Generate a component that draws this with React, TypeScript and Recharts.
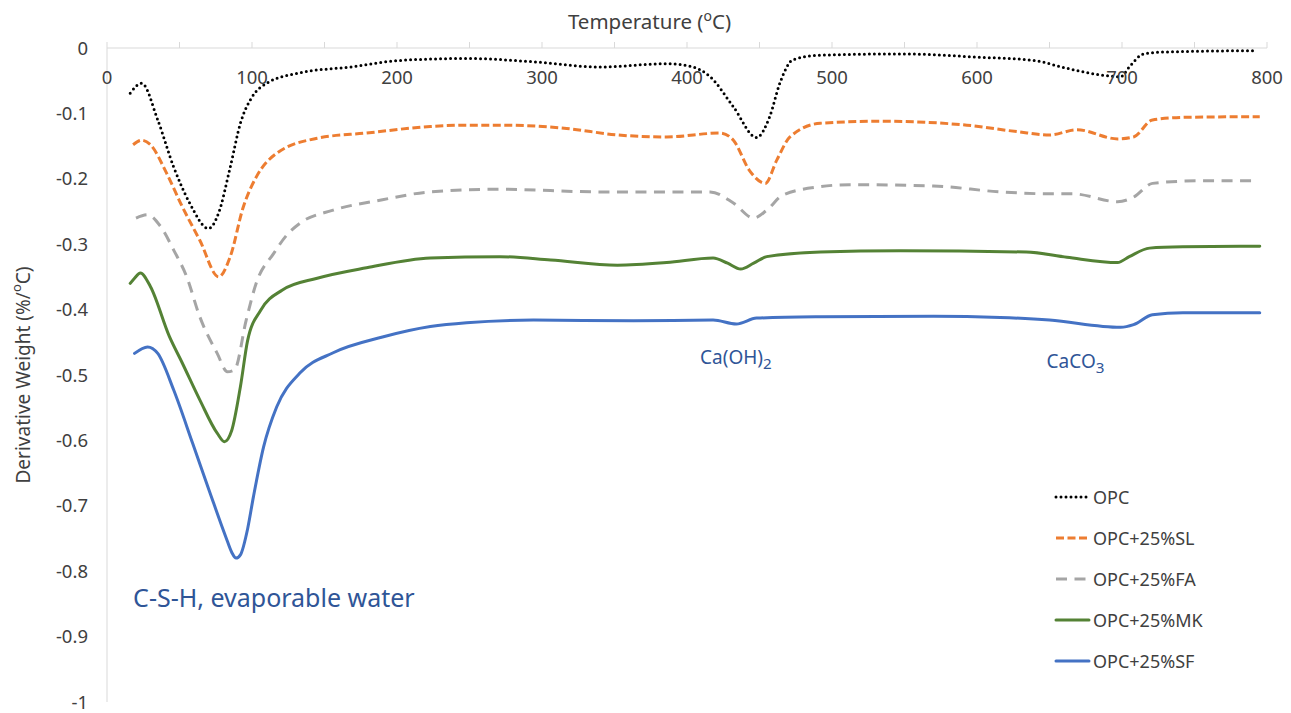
import React from "react";
import { LineChart, Line, XAxis, YAxis, Legend, ReferenceDot } from "recharts";

const FONT = '"Noto Sans", "Open Sans", sans-serif';
const CHART_W = 1291;
const CHART_H = 713;
const MARGIN = { top: 18, right: 24, bottom: 11, left: 0 };
const X_AXIS_H = 30;
const PLOT_TOP = MARGIN.top + X_AXIS_H;
const AXIS_GREY = "#d9d9d9";
const TEXT_GREY = "#404040";
const NOTE_BLUE = "#2f5597";

const xTicks = [0, 50, 100, 150, 200, 250, 300, 350, 400, 450, 500, 550, 600, 650, 700, 750, 800];
const yTicks = [0, -0.1, -0.2, -0.3, -0.4, -0.5, -0.6, -0.7, -0.8, -0.9, -1];

// temperatures (°C) and derivative weight (%/°C)
const opcTemp = [16, 24, 35, 46, 57, 70, 77, 85, 92, 100, 110, 133, 168, 202, 248, 294, 340, 386, 404, 416, 432, 448, 457, 464, 473, 492, 547, 601, 639, 662, 685, 699, 705, 715, 731, 793];
const opcDtg = [-0.069, -0.054, -0.11, -0.182, -0.237, -0.276, -0.252, -0.182, -0.115, -0.075, -0.054, -0.038, -0.029, -0.019, -0.016, -0.021, -0.029, -0.024, -0.029, -0.044, -0.09, -0.137, -0.105, -0.054, -0.018, -0.011, -0.009, -0.014, -0.019, -0.031, -0.041, -0.044, -0.029, -0.009, -0.006, -0.004];

const slTemp = [18, 24, 30, 41, 52, 64, 77, 85, 94, 103, 117, 145, 179, 223, 248, 271, 317, 352, 386, 423, 432, 443, 454, 462, 471, 492, 535, 593, 628, 650, 669, 697, 708, 721, 742, 795];
const slDtg = [-0.148, -0.141, -0.148, -0.191, -0.243, -0.294, -0.35, -0.319, -0.243, -0.197, -0.161, -0.138, -0.13, -0.12, -0.118, -0.118, -0.123, -0.133, -0.136, -0.13, -0.141, -0.187, -0.207, -0.171, -0.136, -0.115, -0.112, -0.118, -0.128, -0.133, -0.125, -0.139, -0.136, -0.11, -0.106, -0.105];

const faTemp = [20, 28, 37, 46, 55, 64, 76, 83, 88, 96, 103, 115, 124, 133, 156, 190, 223, 271, 340, 416, 432, 446, 455, 466, 492, 512, 570, 616, 650, 666, 697, 708, 721, 754, 793];
const faDtg = [-0.26, -0.255, -0.273, -0.309, -0.35, -0.411, -0.467, -0.495, -0.492, -0.416, -0.359, -0.314, -0.286, -0.268, -0.248, -0.232, -0.22, -0.216, -0.22, -0.22, -0.237, -0.26, -0.248, -0.225, -0.212, -0.209, -0.211, -0.22, -0.223, -0.223, -0.235, -0.228, -0.207, -0.203, -0.203];

const mkTemp = [16, 19, 23, 30, 43, 52, 64, 76, 81, 86, 92, 97, 106, 121, 145, 179, 223, 271, 306, 352, 386, 418, 428, 437, 446, 455, 492, 547, 634, 662, 697, 705, 719, 742, 795];
const mkDtg = [-0.36, -0.352, -0.344, -0.365, -0.441, -0.482, -0.538, -0.589, -0.602, -0.585, -0.518, -0.447, -0.401, -0.37, -0.352, -0.336, -0.321, -0.319, -0.324, -0.332, -0.328, -0.321, -0.329, -0.338, -0.329, -0.319, -0.312, -0.31, -0.312, -0.32, -0.328, -0.319, -0.306, -0.304, -0.303];

const sfTemp = [19, 28, 35, 46, 59, 71, 82, 86, 89, 92, 97, 101, 108, 117, 133, 156, 190, 223, 248, 294, 363, 418, 434, 448, 492, 570, 616, 650, 699, 708, 721, 742, 795];
const sfDtg = [-0.467, -0.457, -0.467, -0.523, -0.604, -0.68, -0.748, -0.771, -0.78, -0.775, -0.735, -0.686, -0.61, -0.549, -0.497, -0.466, -0.442, -0.426, -0.42, -0.416, -0.417, -0.416, -0.422, -0.413, -0.411, -0.41, -0.412, -0.416, -0.427, -0.423, -0.408, -0.405, -0.405];

const series = [
  { name: "OPC", temp: opcTemp, dtg: opcDtg, color: "#000000", dash: "0 5", cap: "round" },
  { name: "OPC+25%SL", temp: slTemp, dtg: slDtg, color: "#ed7d31", dash: "8 3.5", cap: "butt" },
  { name: "OPC+25%FA", temp: faTemp, dtg: faDtg, color: "#a5a5a5", dash: "11 7.5", cap: "butt" },
  { name: "OPC+25%MK", temp: mkTemp, dtg: mkDtg, color: "#548235", dash: undefined, cap: "round" },
  { name: "OPC+25%SF", temp: sfTemp, dtg: sfDtg, color: "#4472c4", dash: undefined, cap: "round" },
];

// peak labels: anchored at (temperature, derivative weight)
const notes = [
  { t: 18, v: -0.84, main: "C-S-H, evaporable water", sub: "", size: 25 },
  { t: 409, v: -0.473, main: "Ca(OH)", sub: "2", size: 19 },
  { t: 648, v: -0.479, main: "CaCO", sub: "3", size: 19 },
];

const toPoints = (temp: number[], dtg: number[]) => temp.map((t, i) => ({ t, v: dtg[i] }));

const XTick = (props: any) => {
  const { x, payload } = props;
  if (payload.value % 100 !== 0) return <g />;
  return (
    <text x={x} y={PLOT_TOP + 36} textAnchor="middle" fill={TEXT_GREY} fontSize={18.5} fontFamily={FONT}>
      {payload.value}
    </text>
  );
};

const XTitle = (props: any) => {
  const { viewBox } = props;
  return (
    <text x={CHART_W / 2 + 4} y={viewBox.y + 11} textAnchor="middle" fill={TEXT_GREY} fontSize={20.5} fontFamily={FONT}>
      Temperature (
      <tspan fontSize={14} dy={-8}>o</tspan>
      <tspan dy={8}>C)</tspan>
    </text>
  );
};

const YTitle = (props: any) => {
  const { viewBox } = props;
  const x = viewBox.x + 23;
  const y = viewBox.y + viewBox.height / 2;
  return (
    <text
      x={x}
      y={y}
      transform={`rotate(-90, ${x}, ${y})`}
      textAnchor="middle"
      dominantBaseline="central"
      fill={TEXT_GREY}
      fontSize={19}
      fontFamily={FONT}
    >
      Derivative Weight (%/
      <tspan fontSize={13} dy={-7}>o</tspan>
      <tspan dy={7}>C)</tspan>
    </text>
  );
};

const LegendBox = () => (
  <div style={{ fontFamily: FONT, fontSize: 18, color: TEXT_GREY }}>
    {series.map((s) => (
      <div key={s.name} style={{ display: "flex", alignItems: "center", height: 41 }}>
        <svg width={38} height={10}>
          <line
            x1={3}
            x2={36}
            y1={5}
            y2={5}
            stroke={s.color}
            strokeWidth={3}
            strokeDasharray={s.dash}
            strokeLinecap={s.cap as any}
          />
        </svg>
        <span style={{ marginLeft: 2 }}>{s.name}</span>
      </div>
    ))}
  </div>
);

export default function App() {
  return (
    <div style={{ position: "absolute", left: 0, top: 0, width: CHART_W, height: CHART_H, background: "#fff" }}>
      <LineChart width={CHART_W} height={CHART_H} margin={MARGIN}>
        <XAxis
          dataKey="t"
          type="number"
          orientation="top"
          domain={[0, 800]}
          ticks={xTicks}
          interval={0}
          height={X_AXIS_H}
          axisLine={{ stroke: AXIS_GREY }}
          tickLine={{ stroke: AXIS_GREY }}
          tickSize={6}
          tick={<XTick />}
          label={{ content: <XTitle /> }}
        />
        <YAxis
          type="number"
          domain={[-1, 0]}
          ticks={yTicks}
          interval={0}
          width={107}
          axisLine={{ stroke: AXIS_GREY }}
          tickLine={false}
          tickSize={0}
          tickMargin={19}
          tick={{ fill: TEXT_GREY, fontSize: 18.5, fontFamily: FONT }}
          label={{ content: <YTitle /> }}
        />
        {series.map((s) => (
          <Line
            key={s.name}
            data={toPoints(s.temp, s.dtg)}
            dataKey="v"
            name={s.name}
            type="monotone"
            stroke={s.color}
            strokeWidth={3}
            strokeDasharray={s.dash}
            strokeLinecap={s.cap as any}
            dot={false}
            activeDot={false}
            isAnimationActive={false}
          />
        ))}
        {notes.map((n) => (
          <ReferenceDot
            key={n.main}
            x={n.t}
            y={n.v}
            r={0}
            shape={(p: any) => (
              <text x={p.cx} y={p.cy} dominantBaseline="central" fill={NOTE_BLUE} fontSize={n.size} fontFamily={FONT}>
                {n.main}
                {n.sub && (
                  <tspan fontSize={n.size * 0.8} dy={6}>
                    {n.sub}
                  </tspan>
                )}
              </text>
            )}
          />
        ))}
        <Legend
          layout="vertical"
          align="center"
          verticalAlign="middle"
          content={<LegendBox />}
          wrapperStyle={{ left: 1053, top: 476, width: 220 }}
        />
      </LineChart>
    </div>
  );
}
